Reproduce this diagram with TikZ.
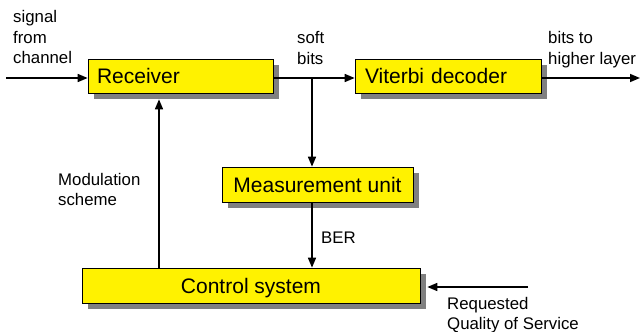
\documentclass[tikz,border=0pt]{standalone}
\usepackage{fontspec}
\setmainfont{Liberation Sans}
\usetikzlibrary{arrows.meta,calc,shadows}

\begin{document}
\begin{tikzpicture}[x=1pt,y=-1pt,
      block/.style={draw=black,line width=0.7pt,fill=yellow,minimum height=34pt,inner sep=0pt,
        text height=15pt,text depth=0pt,font=\fontsize{21}{25}\selectfont,
        drop shadow={shadow xshift=6pt,shadow yshift=-6pt,fill=black!50,opacity=1}},
      lbl/.style={inner sep=0pt,align=left,font=\fontsize{16.8}{20.5}\selectfont},
      arr/.style={-{Triangle[length=10pt,width=8pt]},line width=1.6pt}]
      \useasboundingbox (0,0) rectangle (641,332);
      \node[block,minimum width=185pt,text width=167pt,align=left] (rec) at (180.5,76) {Receiver};
      \node[block,minimum width=186pt,text width=166pt,align=left] (vit) at (448,76) {Viterbi decoder};
      \node[block,minimum width=191pt,minimum height=35pt] (meas) at (317.5,184.5) {Measurement unit};
      \node[block,minimum width=338pt,minimum height=35pt] (ctrl) at (251,285.5) {Control system};
      \coordinate (in) at (6,78);
      \coordinate (split) at (312,78);
      \coordinate (out) at (640,78);
      \coordinate (mod) at (159,180);
      \coordinate (qos) at (528,287);
      \draw[arr] (in) -- (in -| rec.west);
      \draw[line width=1.6pt] (rec.east |- split) -- (split);
      \draw[arr] (split) -- (split -| vit.west);
      \draw[arr] (split) -- (split |- meas.north);
      \draw[arr] (vit.east |- out) -- (out);
      \draw[arr] (split |- meas.south) -- (split |- ctrl.north);
      \draw[arr] (mod |- ctrl.north) -- ($(mod |- rec.south)+(0,6)$);
      \draw[arr] (qos) -- ($(ctrl.east |- qos)+(7,0)$);
      \node[lbl,anchor=north west] (sig) at (13,10.5) {signal\\from\\channel};
      \node[lbl,anchor=north west] (soft) at (297,31.5) {soft\\bits};
      \node[lbl,anchor=north west] (hl) at (548,31.5) {bits to\\higher layer};
      \node[lbl,anchor=north west] (ms) at (58,173) {Modulation\\scheme};
      \node[lbl,anchor=base west] (ber) at (321,243) {BER};
      \node[lbl,anchor=north west] (rq) at (447,297) {Requested\\Quality of Service};
    \end{tikzpicture}
\end{document}
